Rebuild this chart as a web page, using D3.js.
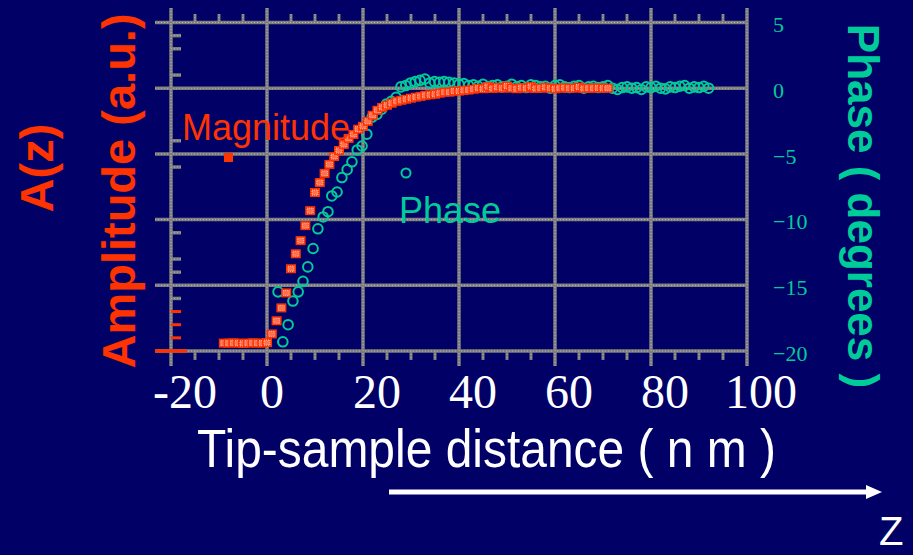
<!DOCTYPE html>
<html lang="en">
<head>
<meta charset="UTF-8">
<title>A(z) amplitude and phase vs tip-sample distance</title>
<style>
  html, body { margin: 0; padding: 0; background: #000066; }
  svg { display: block; }
</style>
</head>
<body>
<script src="https://cdn.jsdelivr.net/npm/d3@7"></script>
<script>
// axis ticks
const xTicks = [-20, 0, 20, 40, 60, 80, 100];
const xMinorTicks = [-15, -10, -5, 5, 10, 15, 25, 30, 35, 45, 50, 55, 65, 70, 75, 85, 90, 95];
const phaseTicks = [5, 0, -5, -10, -15, -20];
const ampTicksGray = [1.2, 1.15, 1.05, 0.8, 0.7, 0.45, 0.35, 0.3, 0.2];
const ampTicksRed = [0.15, 0.1, 0.05];

// magnitude (a.u.) vs distance (nm)
const magX = [-9, -8, -7, -6, -5, -4, -3, -2, -1, 0,
  1, 2, 3, 4, 5, 6, 7, 8, 9, 10, 11, 12, 13, 14, 15, 16, 17, 18, 19, 20,
  21, 22, 23, 24, 25, 26, 27, 28, 29, 30, 31, 32, 33, 34, 35, 36, 37, 38, 39, 40,
  41, 42, 43, 44, 45, 46, 47, 48, 49, 50, 51, 52, 53, 54, 55, 56, 57, 58, 59, 60,
  61, 62, 63, 64, 65, 66, 67, 68, 69, 70, 71];
const magY = [0.03, 0.03, 0.031, 0.03, 0.029, 0.03, 0.031, 0.03, 0.03, 0.032,
  0.065, 0.115, 0.164, 0.221, 0.313, 0.370, 0.420, 0.477, 0.534, 0.603,
  0.641, 0.676, 0.710, 0.740, 0.763, 0.786, 0.809, 0.824, 0.844, 0.855,
  0.874, 0.897, 0.916, 0.927, 0.935, 0.943, 0.950, 0.954, 0.958, 0.962,
  0.966, 0.969, 0.973, 0.975, 0.977, 0.981, 0.985, 0.985, 0.989, 0.989,
  0.992, 0.993, 0.996, 1.0, 0.998, 1.006, 0.999, 1.003, 1.0, 1.008,
  1.0, 0.998, 1.002, 1.0, 1.006, 0.999, 1.0, 1.003, 1.0, 0.998,
  1.0, 1.002, 1.0, 1.0, 1.004, 0.999, 1.0, 1.0, 1.001, 1.0, 1.0];

// phase (degrees) vs distance (nm)
const phaseX = [2.3, 3.3, 4.4, 5.4, 6.5, 7.5, 8.5, 9.6, 10.6, 11.7, 12.7, 13.5, 14.6, 15.6,
  16.7, 17.7, 18.8, 19.8, 20.8, 21.9, 22.9, 23.9, 24.9, 25.9, 26.9, 27.9, 28.9, 29.9,
  30.9, 31.9, 32.9, 33.9, 34.9, 35.9, 36.9, 37.9,
  39, 40, 41, 42, 43, 44, 45, 46, 47, 48, 49, 50, 51, 52, 53, 54, 55, 56, 57, 58, 59, 60,
  61, 62, 63, 64, 65, 66, 67, 68, 69, 70, 71, 72, 73, 74, 75, 76, 77, 78, 79, 80,
  81, 82, 83, 84, 85, 86, 87, 88, 89, 90, 91, 92];
const phaseY = [-15.5, -19.3, -18.0, -16.2, -15.5, -14.7, -13.6, -12.2, -10.7, -9.8, -9.4, -8.2, -7.9, -6.8,
  -6.2, -5.6, -4.7, -4.4, -3.5, -2.2, -2.0, -1.6, -1.2, -1.0, -0.7, 0.1, 0.2, 0.4,
  0.5, 0.6, 0.7, 0.4, 0.5, 0.45, 0.5, 0.45,
  0.4, 0.3, 0.35, 0.2, 0.25, 0.15, 0.3, 0.1, 0.2, 0.25, 0.1, 0.15, 0.3, 0.1, 0.2, 0.05, 0.25, 0.2, 0.1, 0.15, 0.0, 0.2,
  0.25, 0.1, 0.05, 0.15, 0.2, 0.0, 0.1, 0.15, 0.05, 0.1, 0.2, 0.0, -0.1, 0.05, 0.1, 0.0, 0.05, -0.1, 0.1, 0.05,
  0.15, 0.0, -0.05, 0.1, 0.05, 0.15, 0.2, 0.0, 0.1, 0.05, 0.15, 0.0];

const width = 913, height = 555;
const red = '#ff3300', teal = '#00cc99', grid = '#7f7f7f';
const sans = '"Liberation Sans", Arial, sans-serif';
const serif = '"Liberation Serif", "Times New Roman", serif';

const x = d3.scaleLinear().domain([-20, 100]).range([171, 747]);
const yPhase = d3.scaleLinear().domain([-20, 5]).range([351, 22.5]);
const yAmp = d3.scaleLinear().domain([0, 1.25]).range([351, 22.5]);

const svg = d3.select('body').append('svg').attr('width', width).attr('height', height);
svg.append('rect').attr('width', width).attr('height', height).attr('fill', '#000066');

// grid lines: gray bar with a dotted light core
function lines(g, data, x1, y1, x2, y2, w, color) {
  g.selectAll(null).data(data).join('line')
    .attr('x1', x1).attr('y1', y1).attr('x2', x2).attr('y2', y2)
    .attr('stroke', color || grid).attr('stroke-width', w);
  if (!color) {
    g.selectAll(null).data(data).join('line')
      .attr('x1', x1).attr('y1', y1).attr('x2', x2).attr('y2', y2)
      .attr('stroke', '#b4b4b4').attr('stroke-width', 1).attr('stroke-dasharray', '1,2');
  }
}

const gGrid = svg.append('g').classed('grid', true);
lines(gGrid, phaseTicks, 155, d => yPhase(d), 747, d => yPhase(d), 3.5);
lines(gGrid, xTicks, d => x(d), 8, d => x(d), 366, 3.5);
lines(gGrid, xMinorTicks, d => x(d), 14, d => x(d), 22, 3);
lines(gGrid, xMinorTicks, d => x(d), 351, d => x(d), 360, 3);
lines(gGrid, ampTicksGray, 171, d => yAmp(d), 181, d => yAmp(d), 3.5);
lines(gGrid, ampTicksRed, 171, d => yAmp(d), 181, d => yAmp(d), 3, red);
lines(gGrid, [0], 155, d => yAmp(d), 187, d => yAmp(d), 3.5, red);

// x tick labels
svg.append('g').classed('xAxis', true)
  .selectAll('text').data(xTicks).join('text')
  .attr('x', d => x(d) + (d === 0 ? 5 : 14))
  .attr('y', 408)
  .attr('text-anchor', 'middle')
  .attr('font-family', serif).attr('font-size', 48)
  .attr('fill', '#fff')
  .text(d => d);

// right (phase) tick labels
svg.append('g').classed('yAxis', true)
  .attr('transform', 'translate(747,0)')
  .call(d3.axisRight(yPhase).tickValues(phaseTicks).tickSize(0).tickPadding(26))
  .call(g => g.select('.domain').remove())
  .call(g => g.selectAll('text')
    .attr('font-family', serif).attr('font-size', 22)
    .attr('fill', teal).attr('dy', '0.42em'));

// phase circles
svg.append('g').classed('phase', true)
  .selectAll('circle').data(phaseX).join('circle')
  .attr('cx', d => x(d))
  .attr('cy', (d, i) => yPhase(phaseY[i]))
  .attr('r', 4.8)
  .attr('fill', 'none').attr('stroke', teal).attr('stroke-width', 2);

// magnitude squares
function square(sel) {
  sel.append('rect').attr('x', -5).attr('y', -4.5).attr('width', 10).attr('height', 9).attr('fill', red);
  sel.append('rect').attr('x', -3).attr('y', -2.5).attr('width', 6).attr('height', 5)
    .attr('fill', '#ff7050').attr('stroke', '#ffc4b4').attr('stroke-width', 1).attr('stroke-dasharray', '1,1');
}
svg.append('g').classed('magnitude', true)
  .selectAll('g').data(magX).join('g')
  .attr('transform', (d, i) => `translate(${x(d)},${yAmp(magY[i])})`)
  .call(square);

// series labels with their keys
svg.append('text').attr('x', 182).attr('y', 140)
  .attr('font-family', sans).attr('font-size', 36).attr('fill', red).text('Magnitude');
svg.append('rect').attr('x', 224).attr('y', 153).attr('width', 9).attr('height', 9).attr('fill', red);

svg.append('text').attr('x', 399).attr('y', 223)
  .attr('font-family', sans).attr('font-size', 36).attr('fill', teal).text('Phase');
svg.append('circle').attr('cx', 406).attr('cy', 173).attr('r', 4.5)
  .attr('fill', 'none').attr('stroke', teal).attr('stroke-width', 2);

// axis titles
svg.append('text').attr('transform', 'translate(53,168) rotate(-90)')
  .attr('text-anchor', 'middle').attr('font-family', sans).attr('font-weight', 'bold')
  .attr('font-size', 47).attr('fill', red).text('A(z)');
svg.append('text').attr('transform', 'translate(135,191) rotate(-90)')
  .attr('text-anchor', 'middle').attr('font-family', sans).attr('font-weight', 'bold')
  .attr('font-size', 47).attr('fill', red).text('Amplitude (a.u.)');
svg.append('text').attr('transform', 'translate(848,206) rotate(90)')
  .attr('text-anchor', 'middle').attr('font-family', sans).attr('font-weight', 'bold')
  .attr('font-size', 44).attr('fill', teal).text('Phase ( degrees )');

svg.append('text').attr('x', 197).attr('y', 467)
  .attr('font-family', sans).attr('font-size', 54).attr('fill', '#fff')
  .attr('textLength', 579).attr('lengthAdjust', 'spacingAndGlyphs')
  .text('Tip-sample distance ( n m )');

// z arrow
svg.append('line').attr('x1', 389).attr('y1', 492).attr('x2', 868).attr('y2', 492)
  .attr('stroke', '#fff').attr('stroke-width', 5);
svg.append('path').attr('d', 'M866,485 L882,492 L866,499 Z').attr('fill', '#fff');
svg.append('text').attr('x', 879).attr('y', 545)
  .attr('font-family', sans).attr('font-size', 40).attr('fill', '#fff').text('Z');
</script>
</body>
</html>
